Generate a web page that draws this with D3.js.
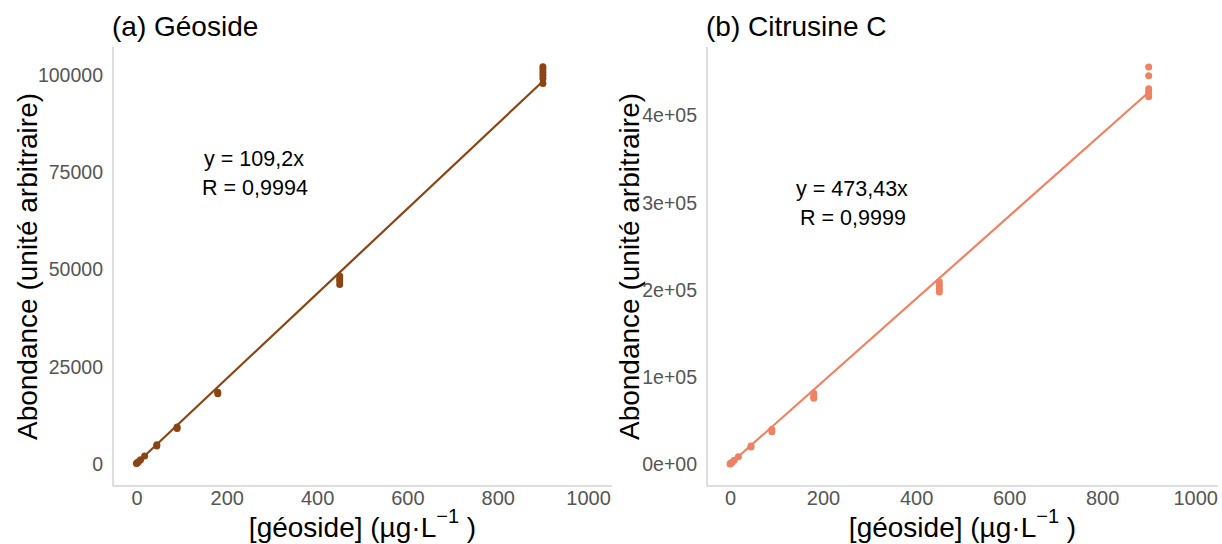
<!DOCTYPE html>
<html><head><meta charset="utf-8">
<script src="https://cdn.jsdelivr.net/npm/d3@7"></script>
<style>body{margin:0;background:#fff}</style>
</head><body>
<svg id="c" width="1222" height="544"></svg>
<script>
// Data
const concA = [0, 0.9, 1.8, 4.5, 9, 18, 45, 45, 90, 90, 180, 180, 450, 450, 450, 450, 900, 900, 900, 900, 900, 900];
const valA  = [0, 100, 200, 480, 950, 1950, 4500, 4800, 9000, 9400, 17900, 18300, 48200, 47500, 46900, 46000, 102000, 101300, 100500, 99800, 99000, 97700];
const slopeA = 109.2;
const concB = [0, 0.9, 1.8, 4.5, 9, 18, 45, 45, 90, 90, 180, 180, 180, 450, 450, 450, 450, 900, 900, 900, 900, 900, 900];
const valB  = [0, 430, 850, 2100, 4200, 8400, 20500, 19500, 39500, 37000, 81000, 78000, 75500, 209000, 205000, 201000, 197000, 455000, 445000, 430000, 427000, 424000, 421000];
const slopeB = 473.43;
const xTicks = [0, 200, 400, 600, 800, 1000];
const yTicksA = [0, 25000, 50000, 75000, 100000];
const yTicksB = [0, 100000, 200000, 300000, 400000];
const yTickLabelsB = ["0e+00", "1e+05", "2e+05", "3e+05", "4e+05"];

const svg = d3.select("#c");
const font = "Liberation Sans, Arial, sans-serif";

function panel(o) {
  const x = d3.scaleLinear().domain(o.xdom).range([o.left, o.right]);
  const y = d3.scaleLinear().domain(o.ydom).range([o.bottom, o.top]);
  const g = svg.append("g");
  // axis lines
  g.append("line").attr("x1", o.left).attr("x2", o.left).attr("y1", o.top).attr("y2", o.bottom)
    .attr("stroke", "#bdbdbd").attr("stroke-width", 1);
  g.append("line").attr("x1", o.left).attr("x2", o.right).attr("y1", o.bottom).attr("y2", o.bottom)
    .attr("stroke", "#bdbdbd").attr("stroke-width", 1);
  // x tick labels
  const xa = d3.axisBottom(x).tickValues(xTicks).tickSize(0).tickPadding(0).tickFormat(d => String(d));
  const gx = g.append("g").attr("transform", `translate(0,${o.bottom + 19})`).call(xa);
  gx.select(".domain").remove();
  gx.selectAll("text").attr("font-family", font).attr("font-size", 20).attr("fill", "#555").attr("dy", "0");
  // y tick labels
  const ya = d3.axisLeft(y).tickValues(o.yticks).tickSize(0).tickPadding(10).tickFormat((d, i) => o.ylabels[i]);
  const gy = g.append("g").attr("transform", `translate(${o.left},0)`).call(ya);
  gy.select(".domain").remove();
  gy.selectAll("text").attr("font-family", font).attr("font-size", 19.5).attr("fill", "#555").attr("dy", "0.35em");
  // regression line
  g.append("line").attr("x1", x(0)).attr("y1", y(0)).attr("x2", x(900)).attr("y2", y(900 * o.slope))
    .attr("stroke", o.color).attr("stroke-width", 2.2);
  // points
  g.selectAll("circle.p").data(o.cx.map((c, i) => [c, o.vy[i]])).enter().append("circle")
    .attr("cx", d => x(d[0])).attr("cy", d => y(d[1])).attr("r", 3.5).attr("fill", o.color);
  // title
  g.append("text").attr("x", o.left - 1).attr("y", 36).attr("font-family", font).attr("font-size", 28)
    .attr("fill", "#000").text(o.title);
  // y axis title
  g.append("text").attr("transform", `translate(${o.ytitleX},${(o.top + o.bottom) / 2}) rotate(-90)`)
    .attr("text-anchor", "middle").attr("font-family", font).attr("font-size", 28).attr("fill", "#000")
    .text("Abondance (unité arbitraire)");
  // x axis title
  const xt = g.append("text").attr("x", (o.left + o.right) / 2).attr("y", 537).attr("text-anchor", "middle")
    .attr("font-family", font).attr("font-size", 28).attr("fill", "#000");
  xt.append("tspan").text("[géoside] (µg·L");
  xt.append("tspan").attr("font-size", 20).attr("dy", -14).text("−1");
  xt.append("tspan").attr("dy", 14).text(" )");
  // annotation
  const at = g.append("text").attr("text-anchor", "middle").attr("font-family", font).attr("font-size", 21.5).attr("fill", "#000");
  at.append("tspan").attr("x", o.annX).attr("y", o.annY).text(o.eq);
  at.append("tspan").attr("x", o.annX + 1).attr("y", o.annY + 29).text(o.r);
}

panel({xdom: [-52, 1053], ydom: [-5784, 107070], left: 113, right: 612, top: 47, bottom: 486,
  yticks: yTicksA, ylabels: yTicksA.map(String), slope: slopeA, color: "#8B4513",
  cx: concA, vy: valA, title: "(a) Géoside", ytitleX: 37, annX: 254, annY: 166,
  eq: "y = 109,2x", r: "R = 0,9994"});
panel({xdom: [-49.5, 1049], ydom: [-25215, 477937], left: 707, right: 1218, top: 47, bottom: 486,
  yticks: yTicksB, ylabels: yTickLabelsB, slope: slopeB, color: "#EE8262",
  cx: concB, vy: valB, title: "(b) Citrusine C", ytitleX: 639, annX: 852, annY: 196,
  eq: "y = 473,43x", r: "R = 0,9999"});
</script>
</body></html>
